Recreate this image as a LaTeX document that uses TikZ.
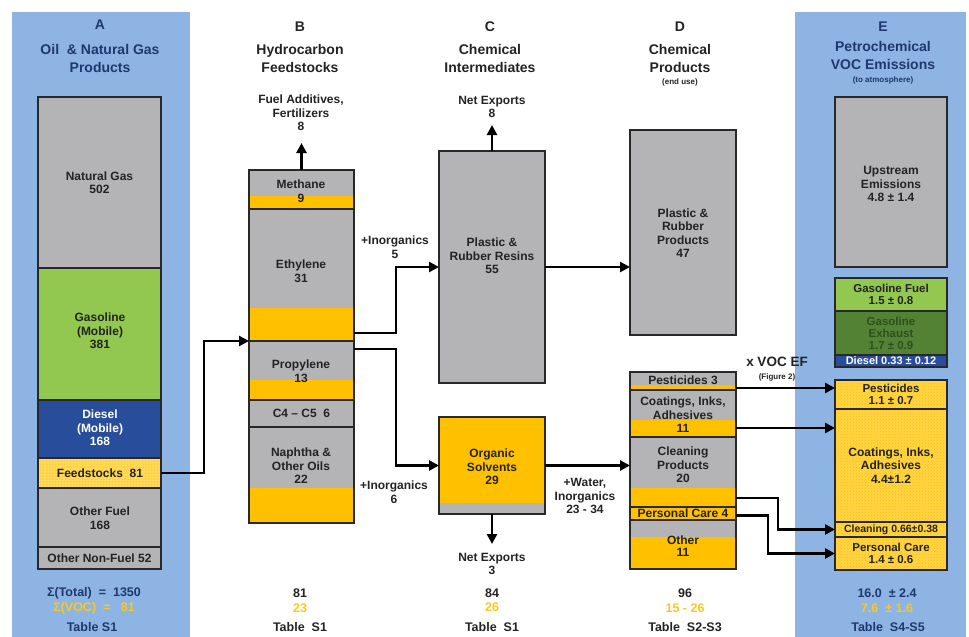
\documentclass[tikz,border=0pt]{standalone}
\usepackage{fontspec}
\setmainfont{Liberation Sans}
\usetikzlibrary{arrows.meta,fit,patterns}
\definecolor{panel}{RGB}{141,180,226}
\definecolor{navy}{RGB}{31,56,110}
\definecolor{gbox}{RGB}{180,180,182}
\definecolor{lgreen}{RGB}{146,200,80}
\definecolor{dgreen}{RGB}{84,130,53}
\definecolor{dgtxt}{RGB}{45,80,30}
\definecolor{dblue}{RGB}{40,78,155}
\definecolor{gold}{RGB}{255,192,0}
\definecolor{lgold}{RGB}{255,212,70}
\definecolor{txt}{RGB}{35,35,35}
\definecolor{edge}{RGB}{40,40,40}
\definecolor{stat}{RGB}{250,200,30}
\tikzset{
  segfill/.style={inner sep=0pt, outer sep=0pt, draw=none},
  lbl/.style={font=\bfseries\fontsize{12}{13.5}\selectfont, align=center, text=txt, inner sep=0pt},
  head/.style={font=\bfseries\fontsize{14}{18}\selectfont, align=center, text=#1, inner sep=0pt},
  head/.default=txt,
  smalltxt/.style={font=\bfseries\fontsize{8}{9}\selectfont, align=center, text=#1, inner sep=0pt},
  smalltxt/.default=txt,
  stattxt/.style={font=\bfseries\fontsize{12.5}{14}\selectfont, align=center, text=#1, inner sep=0pt},
  flow/.style={draw=black, line width=2.7pt, -{Triangle[length=10pt,width=10pt]}},
  outline/.style={draw=edge, line width=1.8pt},
  dotsfill/.style={pattern=dots, pattern color=white},
}
\begin{document}
\begin{tikzpicture}[x=1pt,y=-1pt]
\useasboundingbox (0,0) rectangle (969,637);
\fill[panel] (12,12) rectangle (190,637);
\fill[panel] (795,12) rectangle (966,637);

% ---------- A ----------
\node[segfill, fill=gbox, fit={(38,97) (161,268)}] (aNG) {};
\node[segfill, fill=lgreen, fit={(38,268) (161,400)}] (aGas) {};
\node[segfill, fill=dblue, fit={(38,400) (161,458)}] (aDie) {};
\node[segfill, fill=lgold, fit={(38,458) (161,488)}] (aFeed) {};
\fill[dotsfill] (aFeed.north west) rectangle (aFeed.south east);
\node[segfill, fill=gbox, fit={(38,488) (161,547)}] (aOF) {};
\node[segfill, fill=gbox, fit={(38,547) (161,569)}] (aONF) {};

% ---------- B ----------
\node[segfill, fill=gbox, fit={(249,170) (354,209)}] (bMeth) {};
\fill[gold] (249,196) rectangle (354,209);
\node[segfill, fill=gbox, fit={(249,209) (354,341)}] (bEth) {};
\fill[gold] (249,308) rectangle (354,341);
\node[segfill, fill=gbox, fit={(249,341) (354,400)}] (bProp) {};
\fill[gold] (249,380) rectangle (354,400);
\node[segfill, fill=gbox, fit={(249,400) (354,427)}] (bC) {};
\node[segfill, fill=gbox, fit={(249,427) (354,523)}] (bNap) {};
\fill[gold] (249,488) rectangle (354,523);

% ---------- C ----------
\node[segfill, fill=gbox, fit={(439,151) (545,383)}] (cRes) {};
\node[segfill, fill=gold, fit={(439,417) (545,514)}] (cSol) {};
\fill[gbox] (439,503) rectangle (545,514);

% ---------- D ----------
\node[segfill, fill=gbox, fit={(630,130) (736,335)}] (dPl) {};
\node[segfill, fill=gbox, fit={(630,372) (736,390)}] (dPest) {};
\fill[gold] (630,385) rectangle (736,390);
\node[segfill, fill=gbox, fit={(630,390) (736,437)}] (dCoat) {};
\fill[gold] (630,420) rectangle (736,437);
\node[segfill, fill=gbox, fit={(630,437) (736,507)}] (dClean) {};
\fill[gold] (630,488) rectangle (736,507);
\node[segfill, fill=gold, fit={(630,507) (736,520)}] (dPers) {};
\node[segfill, fill=gbox, fit={(630,520) (736,569)}] (dOther) {};
\fill[gold] (630,537) rectangle (736,569);

% ---------- E ----------
\node[segfill, fill=gbox, fit={(835,97) (947,267)}] (eUp) {};
\node[segfill, fill=lgreen, fit={(835,278) (947,311)}] (eGF) {};
\node[segfill, fill=dgreen, fit={(835,311) (947,355)}] (eGE) {};
\node[segfill, fill=dblue, fit={(835,355) (947,367)}] (eDie) {};
\node[segfill, fill=lgold, fit={(835,380) (947,409)}] (ePest) {};
\node[segfill, fill=lgold, fit={(835,409) (947,522)}] (eCoat) {};
\node[segfill, fill=lgold, fit={(835,522) (947,537)}] (eClean) {};
\node[segfill, fill=lgold, fit={(835,537) (947,570)}] (ePers) {};
\fill[pattern=crosshatch dots, pattern color=gold] (ePest.north west) rectangle (ePers.south east);

% outlines
\foreach \n in {aNG,aGas,aDie,aFeed,aOF,aONF,bMeth,bEth,bProp,bC,bNap,cRes,cSol,dPl,dPest,dCoat,dClean,dPers,dOther,eUp,eGF,eGE,eDie,ePest,eCoat,eClean,ePers}
  \draw[outline] (\n.north west) rectangle (\n.south east);

% ---------- headers ----------
\node[head=navy] (hA) at (100,25) {A};
\node[head=navy] (hA2) at (100,58) {Oil \ \& Natural Gas\\Products};
\node[head] (hB) at (300,27) {B};
\node[head] (hB2) at (300,58) {Hydrocarbon\\Feedstocks};
\node[head] (hC) at (490,27) {C};
\node[head] (hC2) at (490,58) {Chemical\\Intermediates};
\node[head] (hD) at (680,27) {D};
\node[head] (hD2) at (680,58) {Chemical\\Products};
\node[smalltxt] (hD3) at (680,82) {(end use)};
\node[head=navy] (hE) at (883,27) {E};
\node[head=navy] (hE2) at (883,55) {Petrochemical\\VOC Emissions};
\node[smalltxt=navy] (hE3) at (883,80) {(to atmosphere)};

% ---------- box labels ----------
\node[lbl] (tNG) at (aNG.center) {Natural Gas\\502};
\node[lbl] (tGas) at (100,331) {Gasoline\\(Mobile)\\381};
\node[lbl, text=white] (tDie) at (100,428) {Diesel\\(Mobile)\\168};
\node[lbl] (tFeed) at (100,473) {Feedstocks \ 81};
\node[lbl] (tOF) at (100,518) {Other Fuel\\168};
\node[lbl] (tONF) at (aONF.center) {Other Non-Fuel 52};

\node[lbl] (tMeth) at (301,191) {Methane\\9};
\node[lbl] (tEth) at (301,271) {Ethylene\\31};
\node[lbl] (tProp) at (301,371) {Propylene\\13};
\node[lbl] (tC) at (bC.center) {C4 -- C5 \ 6};
\node[lbl] (tNap) at (301,466) {Naphtha \&\\Other Oils\\22};

\node[lbl] (tRes) at (492,256) {Plastic \&\\Rubber Resins\\55};
\node[lbl] (tSol) at (492,467) {Organic\\Solvents\\29};

\node[lbl] (tPl) at (683,233) {Plastic \&\\Rubber\\Products\\47};
\node[lbl] (tPest) at (683,380) {Pesticides 3};
\node[lbl] (tCoat) at (683,415) {Coatings, Inks,\\Adhesives\\11};
\node[lbl] (tClean) at (683,465) {Cleaning\\Products\\20};
\node[lbl] (tPers) at (dPers.center) {Personal Care 4};
\node[lbl, font=\bfseries\fontsize{12}{12}\selectfont] (tOther) at (683,546) {Other\\11};

\node[lbl] (tUp) at (891,184) {Upstream\\Emissions\\4.8 ± 1.4};
\node[lbl, font=\bfseries\fontsize{11.5}{11.5}\selectfont] (tGF) at (eGF.center) {Gasoline Fuel\\1.5 ± 0.8};
\node[lbl, text=dgtxt, font=\bfseries\fontsize{11.5}{12}\selectfont] (tGE) at (eGE.center) {Gasoline\\Exhaust\\1.7 ± 0.9};
\node[lbl, text=white, font=\bfseries\fontsize{11}{11}\selectfont] (tEDie) at (eDie.center) {Diesel 0.33 ± 0.12};
\node[lbl, font=\bfseries\fontsize{11.5}{12.5}\selectfont] (tEPest) at (ePest.center) {Pesticides\\1.1 ± 0.7};
\node[lbl] (tECoat) at (eCoat.center) {Coatings, Inks,\\Adhesives\\4.4±1.2};
\node[lbl, font=\bfseries\fontsize{10.5}{11}\selectfont] (tEClean) at (eClean.center) {Cleaning 0.66±0.38};
\node[lbl, font=\bfseries\fontsize{11.5}{12.5}\selectfont] (tEPers) at (ePers.center) {Personal Care\\1.4 ± 0.6};

% ---------- flow labels ----------
\node[lbl] (lFuel) at (301,113) {Fuel Additives,\\Fertilizers\\8};
\node[lbl] (lNE1) at (492,107) {Net Exports\\8};
\node[lbl] (lNE2) at (492,564) {Net Exports\\3};
\node[lbl] (lIn5) at (395,247) {+Inorganics\\5};
\node[lbl] (lIn6) at (394,492) {+Inorganics\\6};
\node[lbl] (lWat) at (585,496) {+Water,\\Inorganics\\23 - 34};
\node[lbl, font=\bfseries\fontsize{13.5}{14}\selectfont] (lVOC) at (777,362) {x VOC EF};
\node[smalltxt] (lFig) at (777,377) {(Figure 2)};

% ---------- bottom stats ----------
\node[stattxt=navy] (sA1) at (94,593) {Σ(Total) \ = \ 1350};
\node[stattxt=stat] (sA2) at (94,608) {Σ(VOC) \ = \ \ 81};
\node[stattxt=navy] (sA3) at (92,627) {Table S1};
\node[stattxt=txt] (sB1) at (300,593) {81};
\node[stattxt=stat] (sB2) at (300,608) {23};
\node[stattxt=txt] (sB3) at (300,627) {Table \ S1};
\node[stattxt=txt] (sC1) at (492,593) {84};
\node[stattxt=stat] (sC2) at (492,607) {26};
\node[stattxt=txt] (sC3) at (492,627) {Table \ S1};
\node[stattxt=txt] (sD1) at (685,593) {96};
\node[stattxt=stat] (sD2) at (685,608) {15 - 26};
\node[stattxt=txt] (sD3) at (685,627) {Table \ S2-S3};
\node[stattxt=navy] (sE1) at (887,593) {16.0 \ ± 2.4};
\node[stattxt=stat] (sE2) at (887,608) {7.6 \ ± 1.6};
\node[stattxt=navy] (sE3) at (888,627) {Table \ S4-S5};

% ---------- connectors ----------
\draw[flow] (aFeed.east) -- ++(43,0) |- (bProp.north west);
\coordinate (ethOut) at ([yshift=8pt]bEth.south east);
\draw[flow] (ethOut) -- ++(42,0) |- (cRes.west);
\coordinate (propOut) at ([yshift=-8pt]bProp.north east);
\draw[flow] (propOut) -- ++(42,0) |- (cSol.west);
\draw[flow] (cRes.east) -- (cRes.east -| dPl.west);
\draw[flow] (cSol.east) -- (cSol.east -| dClean.west);
\draw[flow] (bMeth.north) -- ++(0,-27);
\draw[flow] (cRes.north) -- ++(0,-26);
\draw[flow] (cSol.south) -- ++(0,30);

\coordinate (pOut) at ([yshift=-7pt]dPest.east);
\draw[flow] (pOut) -- (pOut -| ePest.west);
\coordinate (cOut) at ([yshift=-14.5pt]dCoat.east);
\draw[flow] (cOut) -- (cOut -| eCoat.west);
\coordinate (clOut) at ([yshift=-26pt]dClean.east);
\draw[flow] (clOut) -- ++(42,0) |- (eClean.west);
\coordinate (prOut) at ([yshift=-2pt]dPers.east);
\draw[flow] (prOut) -- ++(32,0) |- (ePers.west);
\end{tikzpicture}
\end{document}
